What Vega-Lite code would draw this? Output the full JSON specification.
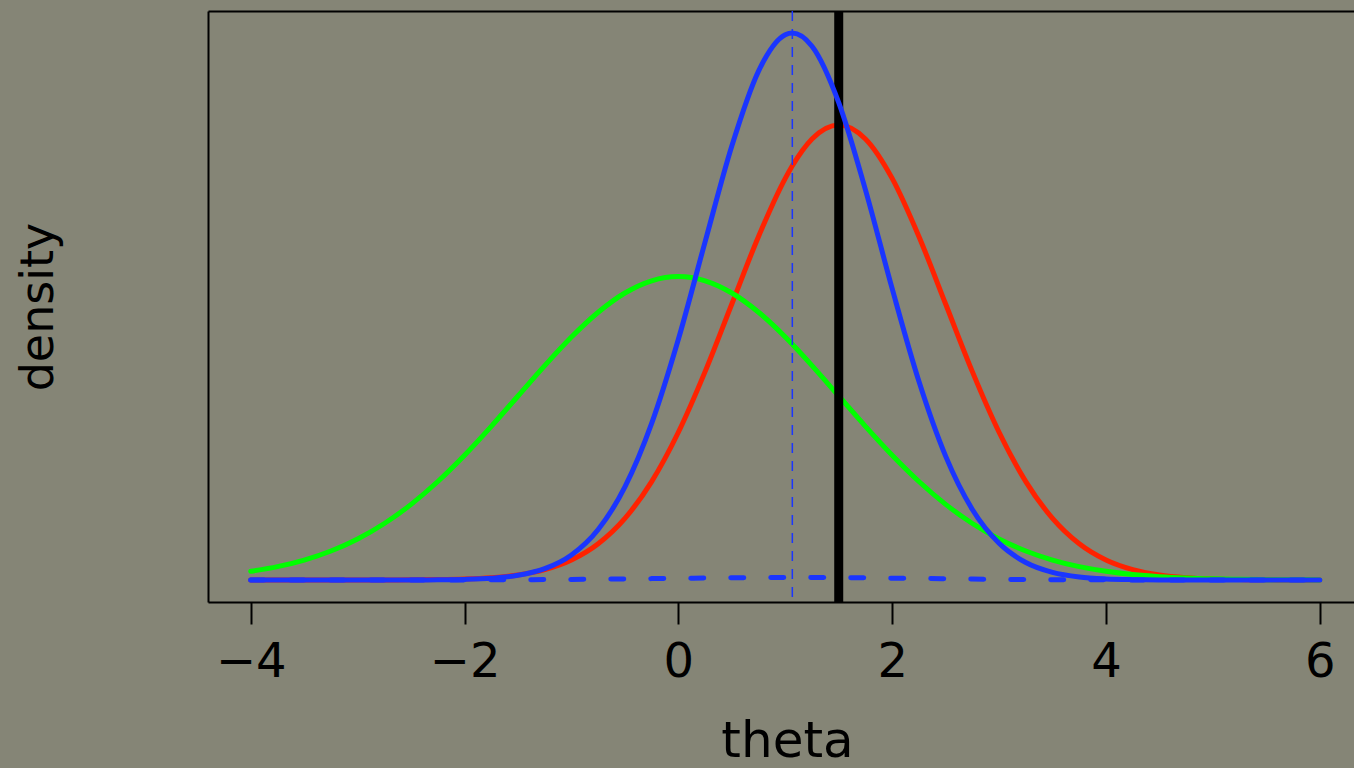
{
  "$schema": "https://vega.github.io/schema/vega-lite/v6.json",
  "width": 1146,
  "height": 591,
  "autosize": {"type": "none"},
  "padding": {"left": 208, "top": 11, "right": 0, "bottom": 166},
  "background": "#858576",
  "config": {
    "view": {"stroke": null},
    "font": "DejaVu Sans",
    "axis": {
      "grid": false,
      "domainColor": "black",
      "domainWidth": 2,
      "tickColor": "black",
      "tickWidth": 2,
      "labelColor": "black",
      "titleColor": "black",
      "labelFont": "DejaVu Sans",
      "titleFont": "DejaVu Sans",
      "titleFontWeight": "normal"
    }
  },
  "data": {
    "values": [
      {"theta": -4, "prior": 0.007596, "likelihood": 0.0000001, "posterior": 0, "predictive": 0},
      {"theta": -3.75, "prior": 0.011686, "likelihood": 0.0000004, "posterior": 0, "predictive": 0},
      {"theta": -3.5, "prior": 0.017477, "likelihood": 0.0000015, "posterior": 0.0000001, "predictive": 0.0000016},
      {"theta": -3.25, "prior": 0.025434, "likelihood": 0.000005, "posterior": 0.0000007, "predictive": 0.000003},
      {"theta": -3, "prior": 0.035994, "likelihood": 0.000016, "posterior": 0.0000031, "predictive": 0.000007},
      {"theta": -2.75, "prior": 0.049538, "likelihood": 0.000048, "posterior": 0.000013, "predictive": 0.000014},
      {"theta": -2.5, "prior": 0.066317, "likelihood": 0.000134, "posterior": 0.000049, "predictive": 0.000027},
      {"theta": -2.25, "prior": 0.086344, "likelihood": 0.000353, "posterior": 0.00017, "predictive": 0.00005},
      {"theta": -2, "prior": 0.10934, "likelihood": 0.000873, "posterior": 0.000539, "predictive": 0.000084},
      {"theta": -1.75, "prior": 0.13467, "likelihood": 0.002029, "posterior": 0.001561, "predictive": 0.00014},
      {"theta": -1.5, "prior": 0.16131, "likelihood": 0.004432, "posterior": 0.004123, "predictive": 0.000224},
      {"theta": -1.25, "prior": 0.18794, "likelihood": 0.009094, "posterior": 0.00996, "predictive": 0.000342},
      {"theta": -1, "prior": 0.21297, "likelihood": 0.017528, "posterior": 0.021972, "predictive": 0.0005},
      {"theta": -0.75, "prior": 0.23471, "likelihood": 0.03174, "posterior": 0.044289, "predictive": 0.0007},
      {"theta": -0.5, "prior": 0.25159, "likelihood": 0.053991, "posterior": 0.081569, "predictive": 0.000939},
      {"theta": -0.25, "prior": 0.26229, "likelihood": 0.086277, "posterior": 0.137255, "predictive": 0.001206},
      {"theta": 0, "prior": 0.26596, "likelihood": 0.129518, "posterior": 0.211023, "predictive": 0.001483},
      {"theta": 0.25, "prior": 0.26229, "likelihood": 0.182649, "posterior": 0.296428, "predictive": 0.001746},
      {"theta": 0.5, "prior": 0.25159, "likelihood": 0.241971, "posterior": 0.380442, "predictive": 0.001968},
      {"theta": 0.75, "prior": 0.23471, "likelihood": 0.301137, "posterior": 0.446134, "predictive": 0.002125},
      {"theta": 1, "prior": 0.21297, "likelihood": 0.352065, "posterior": 0.477994, "predictive": 0.002197},
      {"theta": 1.066, "prior": 0.20661, "likelihood": 0.363083, "posterior": 0.4795, "predictive": 0.0022},
      {"theta": 1.25, "prior": 0.18794, "likelihood": 0.386668, "posterior": 0.467917, "predictive": 0.002174},
      {"theta": 1.5, "prior": 0.16131, "likelihood": 0.39894, "posterior": 0.418509, "predictive": 0.002061},
      {"theta": 1.75, "prior": 0.13467, "likelihood": 0.386668, "posterior": 0.34201, "predictive": 0.00187},
      {"theta": 2, "prior": 0.10934, "likelihood": 0.352065, "posterior": 0.255356, "predictive": 0.001625},
      {"theta": 2.25, "prior": 0.086344, "likelihood": 0.301137, "posterior": 0.174197, "predictive": 0.001352},
      {"theta": 2.5, "prior": 0.066317, "likelihood": 0.241971, "posterior": 0.108578, "predictive": 0.001077},
      {"theta": 2.75, "prior": 0.049538, "likelihood": 0.182649, "posterior": 0.061836, "predictive": 0.000822},
      {"theta": 3, "prior": 0.035994, "likelihood": 0.129518, "posterior": 0.032176, "predictive": 0.0006},
      {"theta": 3.25, "prior": 0.025434, "likelihood": 0.086277, "posterior": 0.015295, "predictive": 0.00042},
      {"theta": 3.5, "prior": 0.017477, "likelihood": 0.053991, "posterior": 0.006642, "predictive": 0.000281},
      {"theta": 3.75, "prior": 0.011686, "likelihood": 0.03174, "posterior": 0.002636, "predictive": 0.00018},
      {"theta": 4, "prior": 0.007596, "likelihood": 0.017528, "posterior": 0.000956, "predictive": 0.000111},
      {"theta": 4.25, "prior": 0.004803, "likelihood": 0.009094, "posterior": 0.000317, "predictive": 0.000065},
      {"theta": 4.5, "prior": 0.002955, "likelihood": 0.004432, "posterior": 0.000096, "predictive": 0.000037},
      {"theta": 4.75, "prior": 0.001767, "likelihood": 0.002029, "posterior": 0.000026, "predictive": 0.00002},
      {"theta": 5, "prior": 0.001028, "likelihood": 0.000873, "posterior": 0.0000067, "predictive": 0.00001},
      {"theta": 5.25, "prior": 0.000582, "likelihood": 0.000353, "posterior": 0.0000016, "predictive": 0.000005},
      {"theta": 5.5, "prior": 0.00032, "likelihood": 0.000134, "posterior": 0, "predictive": 0.0000024},
      {"theta": 5.75, "prior": 0.000171, "likelihood": 0.000048, "posterior": 0, "predictive": 0.000001},
      {"theta": 6, "prior": 0.000089, "likelihood": 0.000016, "posterior": 0, "predictive": 0}
    ]
  },
  "resolve": {"axis": {"x": "independent"}},
  "layer": [
    {
      "mark": {"type": "line", "color": "#ff2200", "strokeWidth": 5, "interpolate": "monotone", "strokeCap": "round"},
      "encoding": {
        "x": {"field": "theta", "type": "quantitative", "scale": {"domain": [-4.4, 6.32], "nice": false, "zero": false},
          "axis": {"orient": "bottom", "values": [-4, -2, 0, 2, 4, 6], "tickSize": 22, "labelFontSize": 48, "labelPadding": 14, "labelFlush": false, "labelOverlap": false, "title": "theta", "titleFontSize": 50, "titlePadding": 30, "titleX": 579}},
        "y": {"field": "likelihood", "type": "quantitative", "scale": {"domain": [-0.01929, 0.49879], "nice": false, "zero": false},
          "axis": {"orient": "left", "ticks": false, "labels": false, "title": "density", "titleFontSize": 46, "titlePadding": 146}}
      }
    },
    {
      "mark": {"type": "line", "color": "#00ff00", "strokeWidth": 5, "interpolate": "monotone", "strokeCap": "round"},
      "encoding": {
        "x": {"field": "theta", "type": "quantitative", "scale": {"domain": [-4.4, 6.32], "nice": false, "zero": false}, "axis": null},
        "y": {"field": "prior", "type": "quantitative", "scale": {"domain": [-0.01929, 0.49879], "nice": false, "zero": false},
          "axis": {"orient": "left", "ticks": false, "labels": false, "title": "density", "titleFontSize": 46, "titlePadding": 146}}
      }
    },
    {
      "data": {"values": [{"theta": 1.5}]},
      "mark": {"type": "rule", "color": "black", "strokeWidth": 9},
      "encoding": {
        "x": {"field": "theta", "type": "quantitative", "scale": {"domain": [-4.4, 6.32], "nice": false, "zero": false},
          "axis": {"orient": "top", "ticks": false, "labels": false, "title": null}}
      }
    },
    {
      "mark": {"type": "line", "color": "#1a35ff", "strokeWidth": 5, "interpolate": "monotone", "strokeCap": "round"},
      "encoding": {
        "x": {"field": "theta", "type": "quantitative", "scale": {"domain": [-4.4, 6.32], "nice": false, "zero": false}, "axis": null},
        "y": {"field": "posterior", "type": "quantitative", "scale": {"domain": [-0.01929, 0.49879], "nice": false, "zero": false},
          "axis": {"orient": "left", "ticks": false, "labels": false, "title": "density", "titleFontSize": 46, "titlePadding": 146}}
      }
    },
    {
      "mark": {"type": "line", "color": "#1a35ff", "strokeWidth": 5, "interpolate": "monotone", "strokeCap": "round", "strokeDash": [13, 27]},
      "encoding": {
        "x": {"field": "theta", "type": "quantitative", "scale": {"domain": [-4.4, 6.32], "nice": false, "zero": false}, "axis": null},
        "y": {"field": "predictive", "type": "quantitative", "scale": {"domain": [-0.01929, 0.49879], "nice": false, "zero": false},
          "axis": {"orient": "left", "ticks": false, "labels": false, "title": "density", "titleFontSize": 46, "titlePadding": 146}}
      }
    },
    {
      "data": {"values": [{"theta": 1.066}]},
      "mark": {"type": "rule", "color": "#1a35ff", "strokeWidth": 1.5, "strokeDash": [10, 8]},
      "encoding": {
        "x": {"field": "theta", "type": "quantitative", "scale": {"domain": [-4.4, 6.32], "nice": false, "zero": false}, "axis": null}
      }
    }
  ]
}
